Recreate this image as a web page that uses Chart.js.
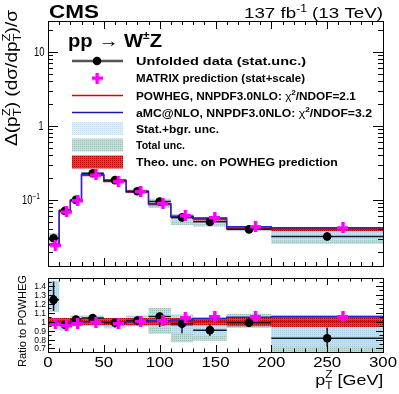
<!DOCTYPE html>
<html><head><meta charset="utf-8">
<script src="https://cdn.jsdelivr.net/npm/chart.js@4"></script>
<style>
html,body{margin:0;padding:0;background:#fff;width:399px;height:394px;overflow:hidden}
canvas{position:absolute;left:0}
</style></head><body>
<canvas id="topc" width="399" height="272" style="top:0;width:399px;height:272px"></canvas>
<canvas id="botc" width="399" height="122" style="top:272px;width:399px;height:122px"></canvas>
<script>
// ---------- data ----------
const binEdges    = [0,10,20,30,50,70,90,110,130,160,200,300];
const dataVals    = [0.0303,0.071,0.100,0.229,0.185,0.131,0.095,0.058,0.0505,0.040,0.032];
const powhegVals  = [0.0252,0.072,0.098,0.218,0.181,0.129,0.0875,0.059,0.055,0.0412,0.040];
const amcVals     = [0.0247,0.070,0.098,0.218,0.179,0.129,0.089,0.060,0.057,0.0433,0.0422];
const matrixVals  = [0.0245,0.069,0.098,0.217,0.178,0.130,0.090,0.0615,0.058,0.0436,0.042];

const ratioData   = [1.245,0.965,1.024,1.040,0.988,1.013,1.057,0.977,0.905,0.988,0.814];
const ratioMatrix = [0.976,0.957,0.980,0.995,0.980,1.005,1.013,1.045,1.058,1.058,1.058];
const ratioAmc    = [0.985,0.975,1.000,1.000,0.990,1.000,1.010,1.020,1.035,1.050,1.055];
const ratioStatLo = [1.12,0.915,0.965,0.975,0.935,0.960,0.940,0.870,0.840,0.950,0.720];
const ratioStatHi = [1.45,1.005,1.060,1.060,1.020,1.060,1.100,1.060,0.970,1.040,0.935];
const ratioTotLo  = [1.11,0.900,0.950,0.965,0.925,0.950,0.866,0.770,0.785,0.930,0.650];
const ratioTotHi  = [1.46,1.020,1.070,1.070,1.030,1.070,1.153,1.080,1.050,1.090,0.950];
const theoLo      = [0.955,0.955,0.955,0.960,0.960,0.960,0.960,0.955,0.960,0.950,0.940];
const theoHi      = [1.040,1.040,1.040,1.040,1.040,1.040,1.040,1.040,1.040,1.050,1.070];

const xTickVals      = [0,50,100,150,200,250,300];
const topYTickVals   = [0.1,1,10];
const ratioYTickVals = [0.7,0.8,0.9,1,1.1,1.2,1.3,1.4];

// ---------- style ----------
const LS = '"Liberation Sans", Arial, Helvetica, sans-serif';
const MATRIX_SHIFT = 0.14;   // fraction of bin width the MATRIX marker is shifted right
const nb = dataVals.length;
const centers = binEdges.slice(0,-1).map((e,i)=>(e+binEdges[i+1])/2);
const widths  = binEdges.slice(0,-1).map((e,i)=>binEdges[i+1]-e);

function hist(vals){ const p = vals.map((v,i)=>({x:binEdges[i], y:v})); p.push({x:binEdges[nb], y:vals[nb-1]}); return p; }
function hbars(vals){ const p=[]; vals.forEach((v,i)=>{p.push({x:binEdges[i],y:v},{x:binEdges[i+1],y:v},{x:binEdges[i+1],y:null});}); return p; }
function vbars(lo,hi){ const p=[]; lo.forEach((v,i)=>{p.push({x:centers[i],y:v},{x:centers[i],y:hi[i]},{x:centers[i],y:null});}); return p; }
function pts(vals, shift){ return vals.map((v,i)=>({x:centers[i]+shift*widths[i], y:v})); }

function pattern(ctx,bg,dot,step){ const c=document.createElement('canvas'); c.width=c.height=step; const g=c.getContext('2d'); g.fillStyle=bg; g.fillRect(0,0,step,step); g.fillStyle=dot; g.fillRect(0,0,1,1); return ctx.createPattern(c,'repeat'); }
function crossMarker(){ const c=document.createElement('canvas'); c.width=c.height=11; const g=c.getContext('2d'); g.fillStyle='#ff00ff'; g.fillRect(0,4,11,3.5); g.fillRect(4,0,3.5,11); return c; }
const cross = crossMarker();

function runsW(ctx,runs){ let w=0; for(const r of runs){ ctx.font=r.f; if(!r.nx) w+=ctx.measureText(r.t).width; } return w; }
function drawRuns(ctx,runs,x,y,align,fitW,rot){
  const w=runsW(ctx,runs); const s= fitW? fitW/w : 1;
  ctx.save(); ctx.translate(x,y); if(rot) ctx.rotate(-Math.PI/2); ctx.scale(s,1);
  let cx = align==='right'? -w : align==='center'? -w/2 : 0;
  ctx.textAlign='left'; ctx.textBaseline='alphabetic';
  for(const r of runs){ ctx.font=r.f; ctx.fillStyle=r.c||'#000'; ctx.fillText(r.t,cx,r.dy||0); if(!r.nx) cx+=ctx.measureText(r.t).width; }
  ctx.restore();
}

function bandSets(lo,hi,bg,order){
  return [
    {data:hist(lo), stepped:true, borderWidth:1, borderColor:'rgba(0,0,0,0)', pointRadius:0, fill:false, order},
    {data:hist(hi), stepped:true, borderWidth:1, borderColor:'rgba(0,0,0,0)', pointRadius:0, fill:'-1', backgroundColor:bg, order}
  ];
}

function buildSets(ctx, v){
  const tot = pattern(ctx,'#bcdcd5','#94c3b9',2);
  const st  = pattern(ctx,'#bfe1f3','#a7d2ea',2);
  const th  = pattern(ctx,'#f03434','#b80000',2);
  return [
    ...bandSets(v.totLo, v.totHi, tot, 8),
    ...bandSets(v.stLo, v.stHi, st, 7),
    ...bandSets(v.thLo, v.thHi, th, 6),
    {data:hist(v.pow), stepped:true, borderColor:'#e00000', borderWidth:1.3, pointRadius:0, fill:false, order:5},
    {data:hist(v.amc), stepped:true, borderColor:'#2424d8', borderWidth:1.5, pointRadius:0, fill:false, order:4},
    {data:hbars(v.dat), borderColor:'#1a1a1a', borderWidth:1.5, pointRadius:0, fill:false, spanGaps:false, order:3},
    {data:vbars(v.vLo, v.vHi), borderColor:'#1a1a1a', borderWidth:1.5, pointRadius:0, fill:false, spanGaps:false, order:2},
    {data:pts(v.dat,0), showLine:false, pointStyle:'circle', pointRadius:4.3, pointBackgroundColor:'#000', pointBorderColor:'#000', pointBorderWidth:0, order:1},
    {data:pts(v.mat,MATRIX_SHIFT), showLine:false, pointStyle:cross, pointRadius:5, order:0}
  ];
}

function drawTicks(chart, o){
  const {ctx, chartArea:a, scales:{x,y}} = chart;
  ctx.save(); ctx.strokeStyle='#000'; ctx.lineWidth=1;
  ctx.beginPath();
  for(let v=0; v<=300; v+=10){
    const px=Math.round(x.getPixelForValue(v))+0.5; const L = v%50===0? o.xMaj : o.xMin;
    ctx.moveTo(px,a.bottom); ctx.lineTo(px,a.bottom-L);
    ctx.moveTo(px,a.top); ctx.lineTo(px,a.top+L);
  }
  for(const t of o.yTicks){
    const py=Math.round(y.getPixelForValue(t.v))+0.5; if(py<a.top-0.1||py>a.bottom+0.6) continue;
    const L = t.major? o.yMaj : o.yMin;
    ctx.moveTo(a.left,py); ctx.lineTo(a.left+L,py);
    ctx.moveTo(a.right,py); ctx.lineTo(a.right-L,py);
  }
  ctx.stroke();
  ctx.strokeRect(Math.round(a.left)+0.5, Math.round(a.top)+0.5, Math.round(a.right-a.left), Math.round(a.bottom-a.top));
  ctx.restore();
}

// ---------- top panel ----------
const topCanvas = document.getElementById('topc');
const tctx = topCanvas.getContext('2d');
const topVals = {
  dat:dataVals, pow:powhegVals, amc:amcVals, mat:matrixVals,
  totLo:dataVals.map((d,i)=>d*ratioTotLo[i]/ratioData[i]), totHi:dataVals.map((d,i)=>d*ratioTotHi[i]/ratioData[i]),
  stLo:dataVals.map((d,i)=>d*ratioStatLo[i]/ratioData[i]),  stHi:dataVals.map((d,i)=>d*ratioStatHi[i]/ratioData[i]),
  thLo:powhegVals.map((p,i)=>p*theoLo[i]), thHi:powhegVals.map((p,i)=>p*theoHi[i]),
  vLo:dataVals.map((d,i)=>d*ratioStatLo[i]/ratioData[i]), vHi:dataVals.map((d,i)=>d*ratioStatHi[i]/ratioData[i])
};
const topYTicks=[]; for(let d=-2; d<=1; d++) for(let m=1;m<=9;m++) topYTicks.push({v:m*Math.pow(10,d), major:m===1});

const topPlugin = {
  id:'topdeco',
  afterDraw(chart){
    const {ctx, chartArea:a, scales:{y}} = chart;
    drawTicks(chart,{xMaj:8,xMin:4,yMaj:10,yMin:5,yTicks:topYTicks});
    // y tick labels
    const f12 = `12px ${LS}`, f8 = `8.5px ${LS}`;
    topYTickVals.forEach(v=>{
      const py = y.getPixelForValue(v);
      if(v===10) drawRuns(ctx,[{t:'10',f:f12}],44.5,py+4.5,'right',10.5);
      else if(v===1) drawRuns(ctx,[{t:'1',f:f12}],43.5,py+4.5,'right',5);
      else drawRuns(ctx,[{t:'10',f:f12},{t:'\u22121',f:f8,dy:-5}],40,py+4.5,'right',18);
    });
    // y title
    const S=17, f=`${S}px ${LS}`, fs=`${(S*0.68).toFixed(1)}px ${LS}`;
    drawRuns(ctx,[{t:'\u0394(p',f},{t:'T',f:fs,dy:4,nx:true},{t:'Z',f:fs,dy:-7},{t:') (d\u03c3/dp',f},{t:'T',f:fs,dy:4,nx:true},{t:'Z',f:fs,dy:-7},{t:')/\u03c3',f}],17,10,'right',136,true);
    // CMS + lumi
    drawRuns(ctx,[{t:'CMS',f:`bold 17.5px ${LS}`}],49,17.5,'left',50);
    drawRuns(ctx,[{t:'137 fb',f:`15.5px ${LS}`},{t:'-1',f:`10px ${LS}`,dy:-6},{t:' (13 TeV)',f:`15.5px ${LS}`}],383,17.5,'right',139);
    // process label
    const fb=`bold 18.5px ${LS}`;
    drawRuns(ctx,[{t:'pp ',f:fb},{t:'\u2192',f:`18.5px ${LS}`},{t:' W',f:fb},{t:'\u00b1',f:`bold 11px ${LS}`,dy:-8},{t:'Z',f:fb}],68,46.7,'left',94);
    // legend
    const rows=[61,78,95.5,112.5,128.5,145,162];
    const x0=72,x1=123,xc=97,tx=136;
    ctx.save();
    ctx.lineWidth=2.5; ctx.strokeStyle='#555'; ctx.beginPath(); ctx.moveTo(x0,rows[0]); ctx.lineTo(x1,rows[0]); ctx.stroke();
    ctx.fillStyle='#000'; ctx.beginPath(); ctx.arc(xc,rows[0],4.3,0,2*Math.PI); ctx.fill();
    ctx.drawImage(cross, xc-5.5, rows[1]-5.5);
    ctx.lineWidth=1.5; ctx.strokeStyle='#e00000'; ctx.beginPath(); ctx.moveTo(x0,rows[2]); ctx.lineTo(x1,rows[2]); ctx.stroke();
    ctx.strokeStyle='#1818b0'; ctx.beginPath(); ctx.moveTo(x0,rows[3]); ctx.lineTo(x1,rows[3]); ctx.stroke();
    ctx.fillStyle=pattern(ctx,'#dbeefc','#c3e0f6',2); ctx.fillRect(x0,rows[4]-6.5,x1-x0,13);
    ctx.fillStyle=pattern(ctx,'#c0ddd7','#9cc6bd',2); ctx.fillRect(x0,rows[5]-6.5,x1-x0,13);
    ctx.fillStyle=pattern(ctx,'#f03434','#c00000',2); ctx.fillRect(x0,rows[6]-6.5,x1-x0,13);
    ctx.restore();
    const lb=`bold 11px ${LS}`, ln=`11px ${LS}`, ls=`bold 7.5px ${LS}`;
    const legTexts=[
      {r:[{t:'Unfolded data (stat.unc.)',f:lb}],w:170},
      {r:[{t:'MATRIX prediction (stat+scale)',f:lb}],w:169},
      {r:[{t:'POWHEG, NNPDF3.0NLO: ',f:lb},{t:'\u03c7',f:ln},{t:'2',f:ls,dy:-4.5},{t:'/NDOF=2.1',f:lb}],w:219.7},
      {r:[{t:'aMC@NLO, NNPDF3.0NLO: ',f:lb},{t:'\u03c7',f:ln},{t:'2',f:ls,dy:-4.5},{t:'/NDOF=3.2',f:lb}],w:236},
      {r:[{t:'Stat.+bgr. unc.',f:lb}],w:83},
      {r:[{t:'Total unc.',f:lb}],w:49},
      {r:[{t:'Theo. unc. on POWHEG prediction',f:lb}],w:201.7}
    ];
    legTexts.forEach((L,i)=>drawRuns(ctx,L.r,tx,rows[i]+4,'left',L.w));
  }
};

new Chart(tctx,{
  type:'line',
  data:{datasets:buildSets(tctx, topVals)},
  options:{
    responsive:false, animation:false, devicePixelRatio:1, parsing:true, normalized:true,
    layout:{padding:{left:48,right:16,top:21,bottom:5}},
    plugins:{legend:{display:false}, tooltip:{enabled:false}},
    scales:{
      x:{type:'linear',min:0,max:300,display:false},
      y:{type:'logarithmic',min:0.0128,max:26.1,display:false}
    }
  },
  plugins:[topPlugin]
});

// ---------- ratio panel ----------
const botCanvas = document.getElementById('botc');
const bctx = botCanvas.getContext('2d');
const botVals = {
  dat:ratioData, pow:powhegVals.map(()=>1), amc:ratioAmc, mat:ratioMatrix,
  totLo:ratioTotLo, totHi:ratioTotHi, stLo:ratioStatLo, stHi:ratioStatHi,
  thLo:theoLo, thHi:theoHi, vLo:ratioStatLo, vHi:ratioStatHi
};
const botYTicks=[]; for(let k=13;k<=30;k++) botYTicks.push({v:k*0.05, major:k%2===0});

const botPlugin = {
  id:'botdeco',
  afterDraw(chart){
    const {ctx, chartArea:a, scales:{x,y}} = chart;
    drawTicks(chart,{xMaj:7,xMin:3.5,yMaj:7,yMin:3.5,yTicks:botYTicks});
    const f8=`8.5px ${LS}`;
    ratioYTickVals.forEach(v=>{
      const py=y.getPixelForValue(v);
      const s = (v===1)? '1' : v.toFixed(1);
      drawRuns(ctx,[{t:s,f:f8}],46,py+3,'right');
    });
    const f14=`14px ${LS}`;
    xTickVals.forEach(v=>{
      const px=x.getPixelForValue(v);
      const s=String(v);
      ctx.font=f14; const w=ctx.measureText(s).width;
      drawRuns(ctx,[{t:s,f:f14}],px,94.7,'center',w*1.2);
    });
    // x title
    const f=`15px ${LS}`, fs=`10px ${LS}`;
    drawRuns(ctx,[{t:'p',f},{t:'T',f:fs,dy:4,nx:true},{t:'Z',f:fs,dy:-7},{t:' [GeV]',f}],383.3,113,'right',68);
    // y title
    drawRuns(ctx,[{t:'Ratio to POWHEG',f:`11px ${LS}`}],26,3,'right',92,true);
  }
};

new Chart(bctx,{
  type:'line',
  data:{datasets:buildSets(bctx, botVals)},
  options:{
    responsive:false, animation:false, devicePixelRatio:1,
    layout:{padding:{left:48,right:16,top:5,bottom:42}},
    plugins:{legend:{display:false}, tooltip:{enabled:false}},
    scales:{
      x:{type:'linear',min:0,max:300,display:false},
      y:{type:'linear',min:0.66,max:1.49,display:false}
    }
  },
  plugins:[botPlugin]
});
</script>
</body></html>
